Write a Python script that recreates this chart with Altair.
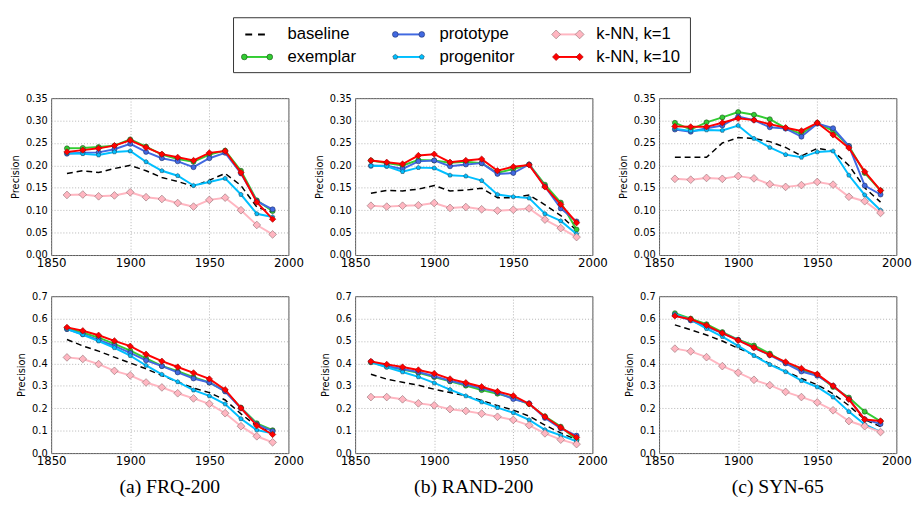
import altair as alt
import pandas as pd

years = [1860, 1870, 1880, 1890, 1900, 1910, 1920, 1930, 1940, 1950, 1960, 1970, 1980, 1990]
methods = ["baseline", "exemplar", "prototype", "progenitor", "k-NN, k=1", "k-NN, k=10"]
captions = ["(a) FRQ-200", "(b) RAND-200", "(c) SYN-65"]

# ---- (a) FRQ-200, top row ----
frq_top = {
    "baseline":   [0.182, 0.188, 0.184, 0.193, 0.200, 0.188, 0.173, 0.164, 0.153, 0.167, 0.182, 0.155, 0.107, 0.095],
    "exemplar":   [0.238, 0.239, 0.241, 0.244, 0.258, 0.242, 0.224, 0.214, 0.208, 0.224, 0.233, 0.188, 0.122, 0.098],
    "prototype":  [0.226, 0.228, 0.229, 0.236, 0.248, 0.230, 0.216, 0.209, 0.196, 0.216, 0.228, 0.182, 0.120, 0.102],
    "progenitor": [0.227, 0.226, 0.223, 0.230, 0.232, 0.208, 0.188, 0.177, 0.155, 0.163, 0.171, 0.135, 0.092, 0.085],
    "k-NN, k=1":  [0.134, 0.135, 0.131, 0.133, 0.140, 0.129, 0.125, 0.116, 0.108, 0.123, 0.128, 0.100, 0.067, 0.046],
    "k-NN, k=10": [0.230, 0.234, 0.238, 0.244, 0.256, 0.240, 0.225, 0.218, 0.211, 0.228, 0.232, 0.184, 0.118, 0.080],
}
# ---- (b) RAND-200, top row ----
rand_top = {
    "baseline":   [0.138, 0.144, 0.143, 0.147, 0.155, 0.143, 0.145, 0.149, 0.128, 0.128, 0.134, 0.112, 0.088, 0.055],
    "exemplar":   [0.211, 0.205, 0.200, 0.212, 0.211, 0.206, 0.208, 0.205, 0.183, 0.192, 0.202, 0.157, 0.117, 0.057],
    "prototype":  [0.199, 0.199, 0.192, 0.209, 0.211, 0.198, 0.202, 0.205, 0.181, 0.183, 0.202, 0.153, 0.104, 0.075],
    "progenitor": [0.199, 0.198, 0.186, 0.195, 0.194, 0.178, 0.176, 0.166, 0.135, 0.130, 0.127, 0.092, 0.076, 0.047],
    "k-NN, k=1":  [0.110, 0.108, 0.110, 0.111, 0.116, 0.105, 0.107, 0.102, 0.099, 0.101, 0.104, 0.079, 0.060, 0.040],
    "k-NN, k=10": [0.211, 0.207, 0.203, 0.222, 0.225, 0.207, 0.211, 0.214, 0.188, 0.197, 0.201, 0.152, 0.113, 0.072],
}
# ---- (c) SYN-65, top row ----
syn_top = {
    "baseline":   [0.218, 0.218, 0.218, 0.250, 0.262, 0.260, 0.253, 0.240, 0.221, 0.238, 0.232, 0.200, 0.150, 0.118],
    "exemplar":   [0.295, 0.280, 0.296, 0.307, 0.319, 0.313, 0.303, 0.283, 0.270, 0.295, 0.277, 0.243, 0.183, 0.144],
    "prototype":  [0.280, 0.275, 0.283, 0.289, 0.309, 0.301, 0.285, 0.282, 0.264, 0.293, 0.283, 0.243, 0.155, 0.135],
    "progenitor": [0.282, 0.277, 0.279, 0.278, 0.289, 0.260, 0.240, 0.224, 0.218, 0.230, 0.232, 0.178, 0.134, 0.100],
    "k-NN, k=1":  [0.170, 0.168, 0.172, 0.170, 0.176, 0.171, 0.158, 0.152, 0.156, 0.163, 0.157, 0.130, 0.120, 0.094],
    "k-NN, k=10": [0.287, 0.286, 0.286, 0.295, 0.305, 0.301, 0.292, 0.284, 0.277, 0.295, 0.268, 0.239, 0.186, 0.144],
}
# ---- (a) FRQ-200, bottom row ----
frq_bot = {
    "baseline":   [0.507, 0.478, 0.455, 0.428, 0.402, 0.376, 0.346, 0.318, 0.290, 0.270, 0.237, 0.175, 0.120, 0.090],
    "exemplar":   [0.557, 0.537, 0.515, 0.487, 0.457, 0.423, 0.389, 0.365, 0.339, 0.315, 0.277, 0.203, 0.133, 0.102],
    "prototype":  [0.553, 0.530, 0.505, 0.478, 0.447, 0.414, 0.388, 0.360, 0.333, 0.315, 0.275, 0.200, 0.128, 0.098],
    "progenitor": [0.553, 0.528, 0.500, 0.470, 0.435, 0.391, 0.351, 0.318, 0.281, 0.255, 0.219, 0.153, 0.103, 0.088],
    "k-NN, k=1":  [0.427, 0.420, 0.397, 0.367, 0.347, 0.315, 0.293, 0.267, 0.244, 0.220, 0.178, 0.120, 0.075, 0.048],
    "k-NN, k=10": [0.561, 0.546, 0.526, 0.501, 0.477, 0.441, 0.410, 0.384, 0.358, 0.331, 0.283, 0.201, 0.123, 0.083],
}
# ---- (b) RAND-200, bottom row ----
rand_bot = {
    "baseline":   [0.352, 0.330, 0.316, 0.303, 0.285, 0.270, 0.256, 0.235, 0.212, 0.192, 0.165, 0.125, 0.090, 0.060],
    "exemplar":   [0.405, 0.386, 0.373, 0.358, 0.339, 0.320, 0.301, 0.281, 0.265, 0.246, 0.219, 0.164, 0.118, 0.060],
    "prototype":  [0.408, 0.388, 0.375, 0.362, 0.343, 0.323, 0.306, 0.289, 0.270, 0.241, 0.222, 0.157, 0.110, 0.078],
    "progenitor": [0.405, 0.383, 0.362, 0.340, 0.313, 0.283, 0.255, 0.228, 0.203, 0.180, 0.148, 0.104, 0.079, 0.053],
    "k-NN, k=1":  [0.250, 0.250, 0.240, 0.222, 0.213, 0.196, 0.188, 0.176, 0.162, 0.148, 0.124, 0.088, 0.060, 0.040],
    "k-NN, k=10": [0.409, 0.396, 0.384, 0.371, 0.355, 0.331, 0.314, 0.296, 0.275, 0.256, 0.220, 0.162, 0.114, 0.070],
}
# ---- (c) SYN-65, bottom row ----
syn_bot = {
    "baseline":   [0.572, 0.550, 0.527, 0.500, 0.468, 0.438, 0.398, 0.365, 0.333, 0.305, 0.265, 0.212, 0.150, 0.118],
    "exemplar":   [0.624, 0.600, 0.575, 0.540, 0.506, 0.480, 0.444, 0.402, 0.370, 0.350, 0.295, 0.248, 0.185, 0.142],
    "prototype":  [0.616, 0.592, 0.563, 0.535, 0.505, 0.470, 0.437, 0.400, 0.364, 0.345, 0.301, 0.241, 0.151, 0.130],
    "progenitor": [0.620, 0.595, 0.555, 0.520, 0.478, 0.435, 0.395, 0.363, 0.323, 0.295, 0.250, 0.185, 0.128, 0.095],
    "k-NN, k=1":  [0.466, 0.454, 0.428, 0.388, 0.359, 0.327, 0.303, 0.273, 0.250, 0.226, 0.191, 0.143, 0.120, 0.094],
    "k-NN, k=10": [0.612, 0.597, 0.570, 0.535, 0.503, 0.471, 0.438, 0.407, 0.378, 0.352, 0.300, 0.240, 0.150, 0.143],
}

top_ticks = [0.0, 0.05, 0.10, 0.15, 0.20, 0.25, 0.30, 0.35]
bot_ticks = [0.0, 0.1, 0.2, 0.3, 0.4, 0.5, 0.6, 0.7]
x_ticks = [1850, 1900, 1950, 2000]

# ---------------- styles ----------------
PENTAGON = "M0,-1L0.951,-0.309L0.588,0.809L-0.588,0.809L-0.951,-0.309Z"
STYLE = {
    "baseline":   dict(color="#000000", width=1.5, dash=[6, 4]),
    "exemplar":   dict(color="#32CD32", width=2, shape="circle", size=26, edge="#1a4d1a"),
    "prototype":  dict(color="#4169E1", width=2, shape="circle", size=26, edge="#1f2f66"),
    "progenitor": dict(color="#00BFFF", width=2, shape=PENTAGON, size=22, edge="#1f4f66"),
    "k-NN, k=1":  dict(color="#FFB6C1", width=2, shape="diamond", size=62, edge="#8c6b70"),
    "k-NN, k=10": dict(color="#FF0000", width=2, shape="diamond", size=42, edge="#9a0000"),
}

data_sets = {"frq_top": frq_top, "rand_top": rand_top, "syn_top": syn_top,
             "frq_bot": frq_bot, "rand_bot": rand_bot, "syn_bot": syn_bot}
rows = []
for key, ds in data_sets.items():
    for m in methods:
        for yr, v in zip(years, ds[m]):
            rows.append({"panel": key, "method": m, "year": yr, "value": v})
df = pd.DataFrame(rows)

PW, PH = 242, 160
HGAP, VGAP = 68, 42


def panel(key, is_top, caption=None):
    d = df[df.panel == key]
    ymax = 0.35 if is_top else 0.7
    x = alt.X("year:Q", scale=alt.Scale(domain=[1850, 2000], nice=False, zero=False),
              axis=alt.Axis(values=x_ticks, format="d", title=None, labelFlush=False,
                            labelFontSize=12, labelPadding=3))
    y = alt.Y("value:Q", scale=alt.Scale(domain=[0, ymax], nice=False),
              axis=alt.Axis(values=top_ticks if is_top else bot_ticks,
                            format=".2f" if is_top else ".1f",
                            title="Precision", labelFlush=False, labelFontSize=10,
                            titleFontSize=10, labelPadding=4, titlePadding=5))
    layers = []
    for m in methods:
        st = STYLE[m]
        base = alt.Chart().transform_filter(alt.datum.method == m)
        if m == "baseline":
            layers.append(base.mark_line(color=st["color"], strokeWidth=st["width"],
                                         strokeDash=st["dash"]).encode(x=x, y=y))
        else:
            layers.append(base.mark_line(color=st["color"], strokeWidth=st["width"]).encode(x=x, y=y))
            layers.append(base.mark_point(shape=st["shape"], size=st["size"], filled=True,
                                          fill=st["color"], stroke=st["edge"], strokeWidth=0.6,
                                          opacity=1, fillOpacity=1).encode(x=x, y=y))
    ch = alt.layer(*layers, data=d)
    props = dict(width=PW, height=PH)
    if caption:
        props["title"] = alt.TitleParams(text=caption, orient="bottom", anchor="middle",
                                         frame="group", font="Liberation Serif",
                                         fontSize=20, fontWeight="normal", color="black",
                                         offset=11)
    return ch.properties(**props)


# ---------------- legend ----------------
leg_col = [0, 0, 1, 1, 2, 2]
leg_row = [0, 1, 0, 1, 0, 1]
leg_df = pd.DataFrame({"method": methods, "col": leg_col, "row": leg_row})
LW = 3 * PW + 2 * HGAP
LH = 56
lx = alt.Scale(domain=[0, LW], range=[0, LW])
ly = alt.Scale(domain=[0, LH], range=[0, LH])

box = alt.Chart(pd.DataFrame({"a": [0]})).transform_calculate(
    x0="186", x1="652", y0="0", y1="56").mark_rect(
    fill="white", stroke="#333", strokeWidth=1).encode(
    x=alt.X("x0:Q", scale=lx, axis=None), x2="x1:Q",
    y=alt.Y("y0:Q", scale=ly, axis=None), y2="y1:Q")

calc = dict(
    sx0="[197, 351, 515][datum.col]",
    sx1="[223, 378, 539][datum.col]",
    tx="[241, 396, 556][datum.col]",
    sy="[17, 40][datum.row]",
)
leg_layers = [box]
for m in methods:
    st = STYLE[m]
    b = alt.Chart(leg_df).transform_filter(alt.datum.method == m).transform_calculate(**calc)
    if m == "baseline":
        b2 = b.transform_calculate(bx0="datum.sx0 + 1", bx1="datum.sx1 - 5")
        leg_layers.append(b2.mark_rule(color=st["color"], strokeWidth=2, strokeDash=[7, 6]).encode(
            x=alt.X("bx0:Q", scale=lx, axis=None), x2="bx1:Q",
            y=alt.Y("sy:Q", scale=ly, axis=None)))
    else:
        leg_layers.append(b.mark_rule(color=st["color"], strokeWidth=st["width"]).encode(
            x=alt.X("sx0:Q", scale=lx, axis=None), x2="sx1:Q",
            y=alt.Y("sy:Q", scale=ly, axis=None)))
        for fld in ["sx0", "sx1"]:
            leg_layers.append(b.mark_point(shape=st["shape"], size=st["size"] * 1.3, filled=True,
                                           fill=st["color"], stroke=st["edge"], strokeWidth=0.6,
                                           opacity=1, fillOpacity=1).encode(
                x=alt.X(f"{fld}:Q", scale=lx, axis=None),
                y=alt.Y("sy:Q", scale=ly, axis=None)))
    leg_layers.append(b.mark_text(align="left", baseline="middle", font="Liberation Sans",
                                  fontSize=17, color="black").encode(
        x=alt.X("tx:Q", scale=lx, axis=None), y=alt.Y("sy:Q", scale=ly, axis=None),
        text="method:N"))

legend = alt.layer(*leg_layers).properties(width=LW, height=LH,
                                           view=alt.ViewBackground(stroke="transparent"))

grid = alt.concat(
    panel("frq_top", True), panel("rand_top", True), panel("syn_top", True),
    panel("frq_bot", False, captions[0]), panel("rand_bot", False, captions[1]),
    panel("syn_bot", False, captions[2]),
    columns=3, spacing=alt.RowColnumber(row=VGAP, column=HGAP), bounds="flush")

chart = alt.vconcat(legend, grid, spacing=26, bounds="flush").properties(
    padding={"left": 2, "top": 4, "right": 2, "bottom": 2}
).configure_view(stroke="#555", strokeWidth=1).configure_axis(
    labelFont="DejaVu Sans", titleFont="DejaVu Sans", labelColor="black", titleColor="black",
    titleFontWeight="normal", ticks=False, domain=False, grid=True, gridColor="#a0a0a0",
    gridDash=[1, 2], gridWidth=0.8
).configure_title(font="Liberation Serif")

chart.save("out.html", embed_options={"renderer": "svg", "actions": False})
